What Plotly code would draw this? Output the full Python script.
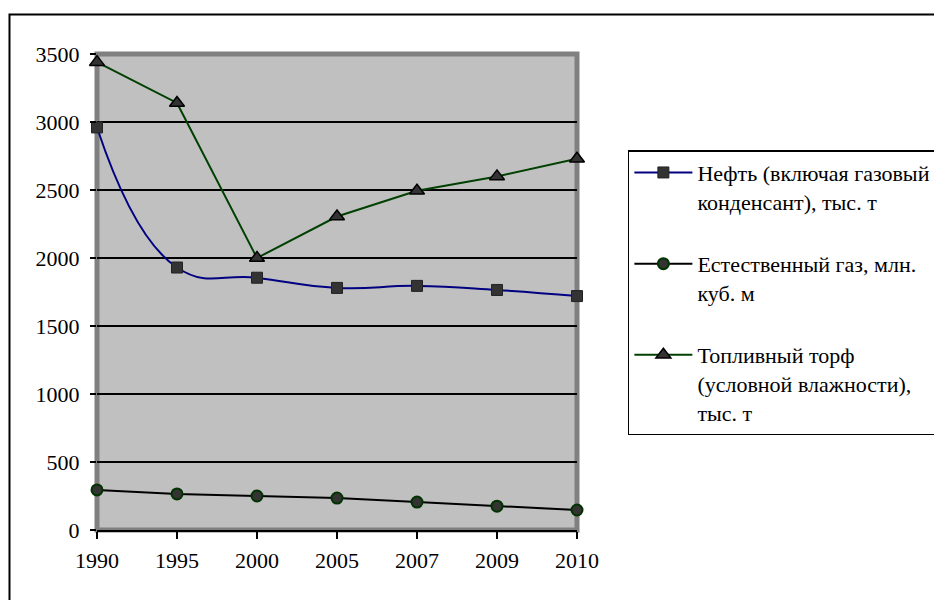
import plotly.graph_objects as go

years = ["1990", "1995", "2000", "2005", "2007", "2009", "2010"]
oil = [2960, 1930, 1855, 1780, 1795, 1765, 1720]
gas = [295, 265, 250, 235, 205, 175, 147]
peat = [3440, 3140, 2000, 2305, 2495, 2600, 2730]
y_ticks = [0, 500, 1000, 1500, 2000, 2500, 3000, 3500]

names = [
    "Нефть (включая газовый<br>конденсант), тыс. т",
    "Естественный газ, млн.<br>куб. м",
    "Топливный торф<br>(условной влажности),<br>тыс. т",
]

FONT = "Liberation Serif, Times New Roman, serif"

fig = go.Figure()
fig.add_trace(go.Scatter(
    x=years, y=oil, name=names[0], mode="lines+markers", legendgroup="a", cliponaxis=False,
    line=dict(color="#000080", width=2, shape="spline", smoothing=1.3),
    marker=dict(symbol="square", size=11, color="#333333", line=dict(color="#222222", width=1)),
))
fig.add_trace(go.Scatter(
    x=years, y=gas, name=names[1], mode="lines+markers", legendgroup="b", cliponaxis=False,
    line=dict(color="#000000", width=2),
    marker=dict(symbol="circle", size=11, color="#333333", line=dict(color="#003300", width=2)),
))
fig.add_trace(go.Scatter(
    x=years, y=peat, name=names[2], mode="lines+markers", legendgroup="c", cliponaxis=False,
    line=dict(color="#004000", width=2),
    marker=dict(symbol="triangle-up", size=13, color="#333333", line=dict(color="#000000", width=1.5)),
))

# gray plot-area frame (between gridlines and traces)
fig.add_shape(type="rect", xref="paper", yref="paper", x0=0, x1=1, y0=0, y1=1,
              line=dict(color="#808080", width=5), layer="between")
# outer chart border
fig.add_shape(type="rect", xref="paper", yref="paper", x0=-0.1823, x1=2.2, y0=-0.3, y1=1.083,
              line=dict(color="#000000", width=2), fillcolor="rgba(0,0,0,0)", layer="below")

fig.update_layout(
    width=934, height=600,
    margin=dict(l=97, r=357, t=54, b=70, autoexpand=False),
    paper_bgcolor="white",
    plot_bgcolor="#C0C0C0",
    font=dict(family=FONT, size=22, color="black"),
    showlegend=True,
    legend=dict(
        x=1.106, y=0.798, xanchor="left", yanchor="top",
        bgcolor="white", bordercolor="black", borderwidth=1.5,
        font=dict(family=FONT, size=22, color="black"),
        traceorder="grouped", tracegroupgap=31, valign="top", itemwidth=58,
    ),
)
fig.update_xaxes(
    type="category", range=[0, 6], showgrid=False,
    showline=True, linecolor="black", linewidth=2,
    ticks="outside", ticklen=7, tickwidth=2, tickcolor="black",
    ticklabelstandoff=3, zeroline=False,
)
fig.update_yaxes(
    range=[0, 3500], tickvals=y_ticks, showgrid=True, gridcolor="black", gridwidth=2,
    showline=False, zeroline=False,
    ticks="outside", ticklen=6, tickwidth=2, tickcolor="black",
    ticklabelstandoff=6,
)

fig.write_html(
    "out.html",
    config={"displayModeBar": False},
    post_script="document.body.style.margin='0';document.body.style.overflow='hidden';",
)
